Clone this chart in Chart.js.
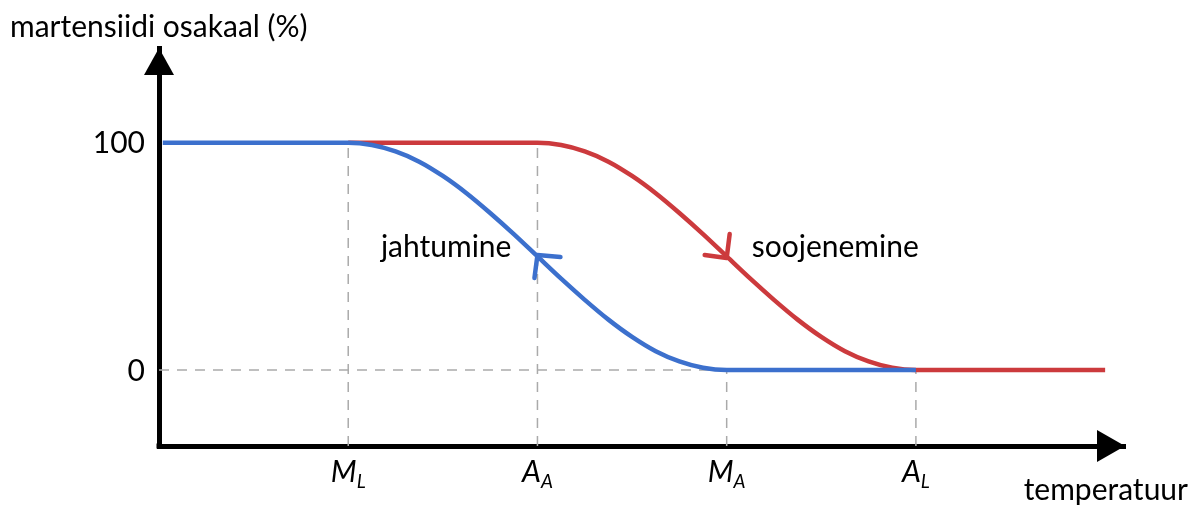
<!DOCTYPE html>
<html>
<head>
<meta charset="utf-8">
<script src="https://cdn.jsdelivr.net/npm/chart.js@4.4.0/dist/chart.umd.min.js"></script>
<style>
  html, body { margin: 0; padding: 0; background: #fff; }
  #wrap { position: relative; width: 1191px; height: 507px; }
</style>
</head>
<body>
<div id="wrap"><canvas id="chart"></canvas></div>
<script>
// --- data ---
const tickValues = [1, 2, 3, 4];
const tickMain = ['M', 'A', 'M', 'A'];
const tickSub = ['L', 'A', 'A', 'L'];
const guideTops = [100, 100, 0, 0];

const yTicks = [0, 100];
const yTickLabels = ['0', '100'];

// jahtumine (blue)
const coolX = [0.02, 1, 1.125, 1.25, 1.375, 1.5, 1.625, 1.75, 1.875, 2, 2.125, 2.25, 2.375, 2.5, 2.625, 2.75, 2.875, 3, 4];
const coolY = [100, 100, 99.0, 96.2, 91.7, 85.4, 77.8, 69.1, 59.8, 50, 40.2, 30.9, 22.2, 14.6, 8.3, 3.8, 1.0, 0, 0];
// soojenemine (red)
const heatX = [1, 2, 2.125, 2.25, 2.375, 2.5, 2.625, 2.75, 2.875, 3, 3.125, 3.25, 3.375, 3.5, 3.625, 3.75, 3.875, 4, 5];
const heatY = [100, 100, 99.0, 96.2, 91.7, 85.4, 77.8, 69.1, 59.8, 50, 40.2, 30.9, 22.2, 14.6, 8.3, 3.8, 1.0, 0, 0];

// arrow marks on the curves
const markX = [2, 3];
const markY = [50.6, 49.3];

const X_MIN = 0, X_MAX = 5.105;
const Y_MIN = -33.4, Y_MAX = 141.7;

const FONT = "Lato, 'Open Sans', sans-serif";
const BLUE = '#3c70cd';
const RED = '#cc3a3d';
const GUIDE = '#aaaaaa';
const LW = 4.5;

document.addEventListener('DOMContentLoaded', function() {

    const toPoints = (xs, ys) => xs.map((x, i) => ({ x: x, y: ys[i] }));

    const guideV = [];
    tickValues.forEach((t, i) => {
        guideV.push({ x: t, y: Y_MIN }, { x: t, y: guideTops[i] }, { x: t, y: null });
    });
    const guideH = [{ x: X_MIN, y: 0 }, { x: tickValues[2], y: 0 }];

    // chevrons + text + axis arrows
    const decor = {
        id: 'decor',
        afterDatasetsDraw(chart) {
            const ctx = chart.ctx, xs = chart.scales.x, ys = chart.scales.y;
            const arms = [
                [[23, 2], [-3, 23]],
                [[3, -24], [-22, -3]]
            ];
            const cols = [BLUE, RED];
            ctx.save();
            ctx.lineWidth = LW;
            ctx.lineCap = 'round';
            ctx.lineJoin = 'round';
            markX.forEach((mx, i) => {
                const px = xs.getPixelForValue(mx), py = ys.getPixelForValue(markY[i]);
                ctx.strokeStyle = cols[i];
                ctx.beginPath();
                ctx.moveTo(px + arms[i][0][0], py + arms[i][0][1]);
                ctx.lineTo(px, py);
                ctx.lineTo(px + arms[i][1][0], py + arms[i][1][1]);
                ctx.stroke();
            });
            ctx.restore();
        },
        afterDraw(chart) {
            const ctx = chart.ctx, a = chart.chartArea;
            const xs = chart.scales.x, ys = chart.scales.y;
            ctx.save();
            ctx.fillStyle = '#000';

            // axis arrow heads
            ctx.beginPath();
            ctx.moveTo(a.left, a.top);
            ctx.lineTo(a.left - 15, a.top + 27);
            ctx.lineTo(a.left + 15, a.top + 27);
            ctx.closePath();
            ctx.fill();
            ctx.beginPath();
            ctx.moveTo(a.right, a.bottom);
            ctx.lineTo(a.right - 28, a.bottom - 16);
            ctx.lineTo(a.right - 28, a.bottom + 16);
            ctx.closePath();
            ctx.fill();
            // square corner where the axes meet
            ctx.fillRect(a.left - 2.5, a.bottom - 2.5, 5, 5);

            // axis titles
            ctx.font = '30px ' + FONT;
            ctx.textBaseline = 'alphabetic';
            ctx.textAlign = 'left';
            ctx.fillText('martensiidi osakaal (%)', 10, 37);
            ctx.textAlign = 'right';
            ctx.fillText('temperatuur', 1188, 500);

            // y tick labels
            ctx.textBaseline = 'middle';
            yTicks.forEach((v, i) => {
                ctx.fillText(yTickLabels[i], a.left - 14, ys.getPixelForValue(v) + 1);
            });

            // x tick labels with subscripts
            ctx.textBaseline = 'alphabetic';
            ctx.textAlign = 'left';
            tickValues.forEach((t, i) => {
                const cx = xs.getPixelForValue(t);
                ctx.font = 'italic 30px ' + FONT;
                const wm = ctx.measureText(tickMain[i]).width;
                ctx.font = 'italic 19px ' + FONT;
                const wsub = ctx.measureText(tickSub[i]).width;
                const x0 = cx - (wm + wsub) / 2;
                ctx.font = 'italic 30px ' + FONT;
                ctx.fillText(tickMain[i], x0, a.bottom + 36);
                ctx.font = 'italic 19px ' + FONT;
                ctx.fillText(tickSub[i], x0 + wm, a.bottom + 42);
            });

            // curve labels
            ctx.font = '30px ' + FONT;
            const bx = xs.getPixelForValue(markX[0]), by = ys.getPixelForValue(markY[0]);
            ctx.textAlign = 'right';
            ctx.fillText('jahtumine', bx - 26, by + 2);
            const rx = xs.getPixelForValue(markX[1]), ry = ys.getPixelForValue(markY[1]);
            ctx.textAlign = 'left';
            ctx.fillText('soojenemine', rx + 25, ry - 1);
            ctx.restore();
        }
    };

    try {
        const el = document.getElementById('chart');
        new Chart(el, {
            type: 'line',
            data: {
                datasets: [
                    {
                        label: 'jahtumine',
                        data: toPoints(coolX, coolY),
                        borderColor: BLUE, borderWidth: LW,
                        cubicInterpolationMode: 'monotone',
                        pointRadius: 0, order: 1
                    },
                    {
                        label: 'soojenemine',
                        data: toPoints(heatX, heatY),
                        borderColor: RED, borderWidth: LW,
                        cubicInterpolationMode: 'monotone',
                        pointRadius: 0, order: 2
                    },
                    {
                        label: 'guideV',
                        data: guideV,
                        borderColor: GUIDE, borderWidth: 1.5, borderDash: [10, 8],
                        tension: 0, spanGaps: false, pointRadius: 0, order: 5
                    },
                    {
                        label: 'guideH',
                        data: guideH,
                        borderColor: GUIDE, borderWidth: 1.5, borderDash: [10, 8],
                        tension: 0, pointRadius: 0, order: 5
                    }
                ]
            },
            options: {
                responsive: true,
                maintainAspectRatio: false,
                animation: false,
                events: [],
                layout: { padding: { left: 159, top: 48, right: 66, bottom: 61 } },
                plugins: { legend: { display: false }, tooltip: { enabled: false } },
                scales: {
                    x: {
                        type: 'linear', min: X_MIN, max: X_MAX,
                        ticks: { display: false },
                        grid: { display: false, drawTicks: false },
                        border: { color: '#000', width: 5 },
                        afterFit: s => { s.height = 0; }
                    },
                    y: {
                        type: 'linear', min: Y_MIN, max: Y_MAX,
                        ticks: { display: false },
                        grid: { display: false, drawTicks: false },
                        border: { color: '#000', width: 5 },
                        afterFit: s => { s.width = 0; }
                    }
                }
            },
            plugins: [decor]
        });
    } catch (error) {
        console.error('Error drawing chart:', error);
    }
});
</script>
</body>
</html>
